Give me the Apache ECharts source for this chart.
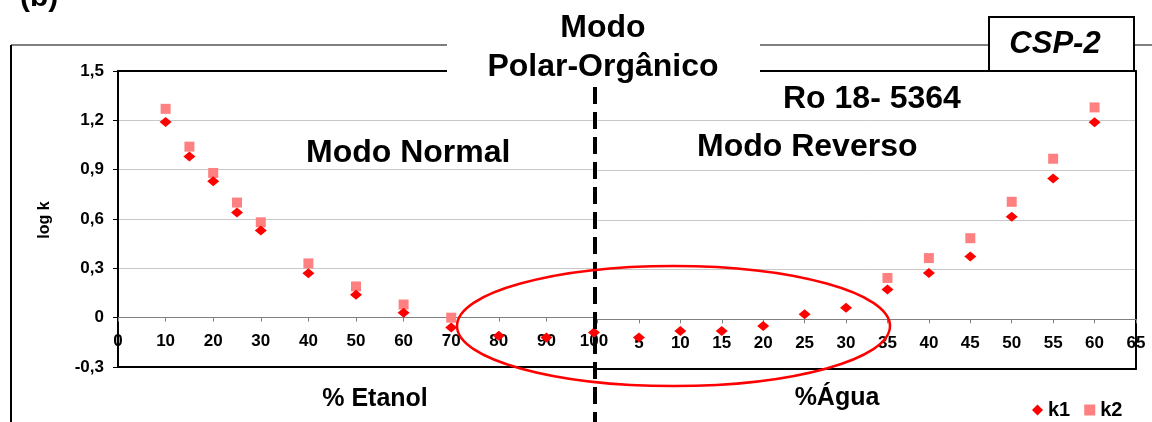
<!DOCTYPE html>
<html>
<head>
<meta charset="utf-8">
<title>CSP-2 — Ro 18-5364</title>
<script src="https://cdn.jsdelivr.net/npm/echarts@6/dist/echarts.min.js"></script>
<style>
  html, body { margin: 0; padding: 0; background: #ffffff; }
  #chart { width: 1152px; height: 422px; }
</style>
</head>
<body>
<div id="chart"></div>
<script>
// Normal mode: % ethanol in the mobile phase
const etanolX  = [10, 15, 20, 25, 30, 40, 50, 60, 70, 80, 90, 100];
const etanolK1 = [1.19, 0.98, 0.83, 0.64, 0.53, 0.27, 0.14, 0.03, -0.06, -0.11, -0.12, -0.09];
const etanolK2 = [1.27, 1.04, 0.88, 0.70, 0.58, 0.33, 0.19, 0.08, 0.00, null, null, null];

// Reversed mode: % water in the mobile phase
const aguaX  = [5, 10, 15, 20, 25, 30, 35, 40, 45, 50, 55, 60];
const aguaK1 = [-0.11, -0.07, -0.07, -0.04, 0.03, 0.07, 0.18, 0.28, 0.38, 0.62, 0.85, 1.19];
const aguaK2 = [null, null, null, null, null, null, 0.25, 0.37, 0.49, 0.71, 0.97, 1.28];

// Axis scales and tick labels
const logKMin = -0.3, logKMax = 1.5, logKStep = 0.3;
const etanolTicks = { min: 0, max: 100, step: 10 };
const aguaTicks   = { min: 0, max: 65,  step: 5 };

const seriesNames = ['k1', 'k2'];
const axisNames = { etanol: '% Etanol', agua: '%Água', logk: 'log k' };
const titles = {
  panel: '(b)', mode: 'Modo', polar: 'Polar-Orgânico', normal: 'Modo Normal',
  reverso: 'Modo Reverso', compound: 'Ro 18- 5364', column: 'CSP-2'
};

const FONT = 'Arial, "Liberation Sans", Helvetica, sans-serif';
const K1_COLOR = '#ff0000';
const K2_COLOR = '#ff8080';

// plot rectangles of the two panels
const gridNormal  = { left: 118,   top: 71, width: 476,   height: 296 };
const gridReverso = { left: 597.5, top: 71, width: 538.5, height: 298 };

const pairs = (xs, ys) => xs.map((x, i) => ys[i] == null ? null : [x, ys[i]]).filter(p => p);

const commaLabel = v => Math.abs(v) < 1e-9 ? '0' : v.toFixed(1).replace('.', ',');
const tickText = { color: '#000', fontFamily: FONT, fontWeight: 'bold', fontSize: 17 };

// distance of the log k = 0 level above the bottom edge of a panel
const zeroLift = g => g.height * (0 - logKMin) / (logKMax - logKMin);

function zeroAxis(grid, g, t, hideZero) {
  return {
    type: 'value', gridIndex: grid, position: 'bottom', offset: -zeroLift(g),
    min: t.min, max: t.max, interval: t.step,
    axisLine: { show: true, onZero: false, lineStyle: { color: '#808080', width: 1 } },
    axisTick: { show: true, inside: false, length: 4, lineStyle: { color: '#808080' } },
    axisLabel: Object.assign({ margin: 15, formatter: v => (hideZero && v === 0) ? '' : String(v) }, tickText),
    splitLine: { show: false }
  };
}
function borderAxis(grid, t, pos) {
  return {
    type: 'value', gridIndex: grid, position: pos, min: t.min, max: t.max,
    axisLine: { show: true, onZero: false, lineStyle: { color: '#000', width: 2 } },
    axisTick: { show: false }, axisLabel: { show: false }, splitLine: { show: false }
  };
}
function logKAxis(grid, pos, labels) {
  return {
    type: 'value', gridIndex: grid, position: pos,
    min: logKMin, max: logKMax, interval: logKStep,
    axisLine: { show: true, onZero: false, lineStyle: { color: '#000', width: 2 } },
    axisTick: { show: labels, inside: false, length: 5, lineStyle: { color: '#000' } },
    axisLabel: Object.assign({ show: labels, margin: 14, formatter: commaLabel }, tickText),
    splitLine: { show: true, showMinLine: false, showMaxLine: false,
                 lineStyle: { color: '#c8c8c8', width: 1 } }
  };
}

function scatter(name, xAxisIndex, yAxisIndex, data, isK1) {
  return {
    name, type: 'scatter', xAxisIndex, yAxisIndex, data,
    symbol: isK1 ? 'diamond' : 'rect',
    symbolSize: isK1 ? [12, 10] : [10, 10],
    itemStyle: { color: isK1 ? K1_COLOR : K2_COLOR, opacity: 1 },
    z: isK1 ? 3 : 2,
    silent: true
  };
}

const bigText = (text, x, y, align, extra) => ({
  type: 'text', z: 60,
  style: Object.assign({
    text, x, y, align, verticalAlign: 'middle',
    font: 'bold 32px ' + FONT, fill: '#000'
  }, extra || {})
});

const chart = echarts.init(document.getElementById('chart'), null, { renderer: 'canvas' });

chart.setOption({
  animation: false,
  backgroundColor: '#ffffff',
  grid: [
    Object.assign({ containLabel: false, outerBoundsMode: 'none' }, gridNormal),
    Object.assign({ containLabel: false, outerBoundsMode: 'none' }, gridReverso)
  ],
  xAxis: [
    zeroAxis(0, gridNormal, etanolTicks, false),
    borderAxis(0, etanolTicks, 'top'),
    borderAxis(0, etanolTicks, 'bottom'),
    zeroAxis(1, gridReverso, aguaTicks, true),
    borderAxis(1, aguaTicks, 'top'),
    borderAxis(1, aguaTicks, 'bottom')
  ],
  yAxis: [
    logKAxis(0, 'left', true),
    logKAxis(1, 'right', false)
  ],
  legend: {
    left: 1027, top: 395,
    itemWidth: 11, itemHeight: 11, itemGap: 14,
    textStyle: { color: '#000', fontFamily: FONT, fontWeight: 'bold', fontSize: 20 },
    data: [
      { name: seriesNames[0], icon: 'diamond', itemStyle: { color: K1_COLOR } },
      { name: seriesNames[1], icon: 'rect', itemStyle: { color: K2_COLOR } }
    ],
    selectedMode: false
  },
  series: [
    scatter(seriesNames[0], 0, 0, pairs(etanolX, etanolK1), true),
    scatter(seriesNames[1], 0, 0, pairs(etanolX, etanolK2), false),
    scatter(seriesNames[0], 3, 1, pairs(aguaX, aguaK1), true),
    scatter(seriesNames[1], 3, 1, pairs(aguaX, aguaK2), false)
  ],
  graphic: [
    // outer frame of the figure
    { type: 'line', z: 5, shape: { x1: 11, y1: 45, x2: 1152, y2: 45 }, style: { stroke: '#000', lineWidth: 1.2 } },
    { type: 'line', z: 5, shape: { x1: 11, y1: 45, x2: 11, y2: 422 }, style: { stroke: '#000', lineWidth: 2 } },
    // blank band behind the polar-organic heading
    { type: 'rect', z: 40, shape: { x: 447, y: 0, width: 313, height: 86 }, style: { fill: '#fff' } },
    // column label box
    { type: 'rect', z: 45, shape: { x: 989, y: 17, width: 145, height: 54 },
      style: { fill: '#fff', stroke: '#000', lineWidth: 2 } },
    bigText(titles.column, 1055, 44, 'center', { font: 'italic bold 31px ' + FONT }),
    // headings
    bigText(titles.panel, 20, -2, 'left', { font: 'bold 30px ' + FONT }),
    bigText(titles.mode, 603, 28, 'center'),
    bigText(titles.polar, 603, 67, 'center'),
    bigText(titles.compound, 783, 99, 'left'),
    bigText(titles.normal, 306, 153, 'left'),
    bigText(titles.reverso, 697, 147, 'left'),
    // axis titles
    bigText(axisNames.etanol, 375, 399, 'center', { font: 'bold 25px ' + FONT }),
    bigText(axisNames.agua, 837, 398, 'center', { font: 'bold 25px ' + FONT }),
    { type: 'text', z: 60, x: 45, y: 220, rotation: Math.PI / 2,
      style: { text: axisNames.logk, x: 0, y: 0, align: 'center', verticalAlign: 'middle',
               font: 'bold 16px ' + FONT, fill: '#000' } },
    // boundary between the two elution modes
    { type: 'line', z: 70, shape: { x1: 595, y1: 87, x2: 595, y2: 422 },
      style: { stroke: '#000', lineWidth: 4, lineDash: [17, 8] } },
    // highlighted transition region
    { type: 'ellipse', z: 70, shape: { cx: 673.5, cy: 326, rx: 216.5, ry: 60 },
      style: { fill: null, stroke: '#ff0000', lineWidth: 2.5 } }
  ]
});
</script>
</body>
</html>
